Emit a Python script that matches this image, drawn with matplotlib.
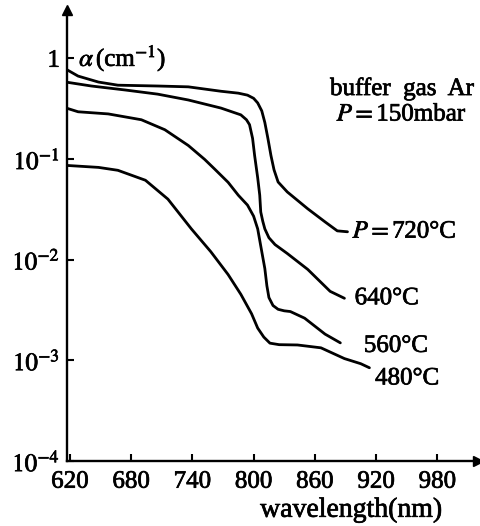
import matplotlib
matplotlib.use('Agg')
import matplotlib.pyplot as plt
import matplotlib.patheffects as pe

plt.rcParams['font.family'] = ['Liberation Serif', 'DejaVu Serif']
plt.rcParams['mathtext.fontset'] = 'stix'

# absorption curves, wavelength in nm, alpha in cm^-1
wl_720 = [616, 628, 648, 667, 706, 736, 768, 785, 794, 800, 804, 808, 811, 814, 817, 820, 824,
          833, 853, 870, 882, 892]
a_720 = [0.78, 0.665, 0.58, 0.54, 0.53, 0.52, 0.47, 0.45, 0.43, 0.40, 0.36, 0.30, 0.23, 0.16,
         0.108, 0.078, 0.059, 0.047, 0.032, 0.0237, 0.0193, 0.0189]

wl_640 = [616, 641, 674, 706, 736, 768, 787.5, 793, 796, 799, 801, 804, 806, 807, 809, 811, 815,
          821, 833, 853, 875, 889]
a_640 = [0.58, 0.53, 0.484, 0.44, 0.385, 0.32, 0.274, 0.245, 0.219, 0.16, 0.108, 0.065, 0.0437,
         0.0297, 0.024, 0.0202, 0.0165, 0.0141, 0.0115, 0.008, 0.00484, 0.00413]

wl_560 = [616, 628, 657.5, 690, 713, 736, 752, 762, 775, 785, 794, 800, 804, 808, 811, 813,
          815, 819, 824, 830, 836, 850, 870, 885]
a_560 = [0.321, 0.294, 0.28, 0.245, 0.195, 0.136, 0.099, 0.079, 0.0586, 0.0436, 0.0348, 0.027,
         0.0202, 0.012, 0.00815, 0.0055, 0.0042, 0.0035, 0.00321, 0.0031, 0.00305, 0.00262,
         0.00182, 0.00149]

wl_480 = [616, 648, 667, 694, 716, 739, 758, 775, 787.5, 798, 804, 810, 816, 825, 843, 866, 889,
          905, 913.5]
a_480 = [0.0863, 0.0824, 0.0771, 0.0614, 0.0399, 0.0202, 0.012, 0.00711, 0.00452, 0.0029,
         0.00209, 0.0017, 0.00148, 0.00143, 0.00142, 0.00133, 0.00104, 0.000925, 0.000843]

xticks = [620, 680, 740, 800, 860, 920, 980]
yticks = [1e-4, 1e-3, 1e-2, 1e-1, 1]
ytick_labels = [r'$10^{-4}$', r'$10^{-3}$', r'$10^{-2}$', r'$10^{-1}$', '1']

# slightly heavier text, like the printed original
heavy = [pe.withStroke(linewidth=0.5, foreground='black')]

fig = plt.figure(figsize=(4.81, 5.26), dpi=100)
ax = fig.add_axes([0.139, 0.1236, 0.855, 0.857])

for wl, a in [(wl_720, a_720), (wl_640, a_640), (wl_560, a_560), (wl_480, a_480)]:
    ax.plot(wl, a, color='black', lw=2.0, solid_capstyle='round', solid_joinstyle='round')

ax.set_yscale('log')
ax.set_xlim(617, 1020)
ax.set_ylim(1e-4, 3)
ax.set_xticks(xticks)
ax.set_xticklabels([str(t) for t in xticks])
ax.set_yticks(yticks)
ax.set_yticklabels(ytick_labels)
ax.minorticks_off()
ax.tick_params(direction='in', length=5, width=1.5, labelsize=18, pad=5)
ax.tick_params(axis='x', pad=7)
for lab in ax.get_xticklabels() + ax.get_yticklabels():
    lab.set_path_effects(heavy)

for s in ['top', 'right']:
    ax.spines[s].set_visible(False)
for s in ['left', 'bottom']:
    ax.spines[s].set_linewidth(1.7)

# arrow heads on the axes
ax.plot(1, 0, marker='>', color='black', markersize=7, transform=ax.transAxes, clip_on=False)
ax.plot(0, 1, marker='^', color='black', markersize=7, transform=ax.transAxes, clip_on=False)

ax.text(629, 1.0, r'$\alpha\,$(cm$^{-1}$)', fontsize=18, va='center', ha='left', path_effects=heavy)
ax.text(1016, 0.5, 'buffer  gas  Ar', fontsize=18, va='center', ha='right', path_effects=heavy)
ax.text(1009, 0.275, r'$P=$150mbar', fontsize=18, va='center', ha='right', path_effects=heavy)

ax.text(897, 0.0189, r'$P=$720°C', fontsize=18, va='center', ha='left', path_effects=heavy)
ax.text(899, 0.00413, '640°C', fontsize=18, va='center', ha='left', path_effects=heavy)
ax.text(908, 0.00139, '560°C', fontsize=18, va='center', ha='left', path_effects=heavy)
ax.text(919, 0.00066, '480°C', fontsize=18, va='center', ha='left', path_effects=heavy)

fig.text(0.73, 0.03, 'wavelength(nm)', fontsize=20, ha='center', va='center', path_effects=heavy)

fig.savefig('out.png', dpi=100)
